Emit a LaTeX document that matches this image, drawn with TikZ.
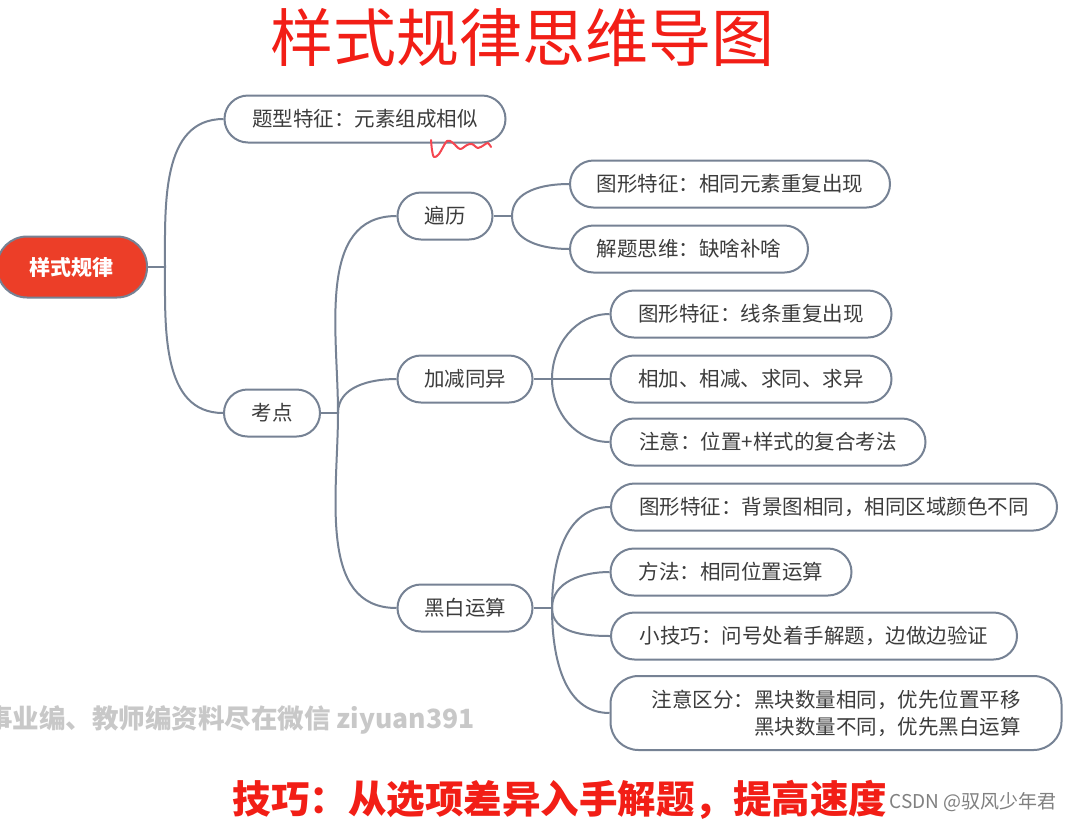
\documentclass[tikz,border=0pt]{standalone}
\usepackage{fontspec}
\setmainfont{Noto Sans CJK SC}
\definecolor{linec}{RGB}{118,130,148}
\definecolor{rootred}{RGB}{236,62,40}
\definecolor{titlered}{RGB}{242,30,22}
\definecolor{txt}{RGB}{60,60,60}
\definecolor{wm}{RGB}{200,200,200}
\definecolor{pen}{RGB}{245,70,80}
\tikzset{
  box/.style={draw=linec, line width=2pt, fill=white, rounded corners=23.5pt,
    minimum height=47pt, inner sep=0pt, text=txt, font=\fontsize{20.5}{27}\selectfont},
  rootbox/.style={draw=linec, line width=2pt, fill=rootred, rounded corners=30pt,
    minimum height=61pt, minimum width=150pt, inner sep=0pt, text=white,
    font=\fontsize{21}{26}\selectfont\bfseries},
  conn/.style={draw=linec, line width=2pt},
  up/.style={out=90,in=180},
  down/.style={out=-90,in=180},
}
\begin{document}
\begin{tikzpicture}[x=1pt,y=1pt]
\useasboundingbox (0,0) rectangle (1072,-823);
\fill[white] (0,0) rectangle (1072,-823);

\node[text=titlered, font=\fontsize{63}{70}\selectfont] (title) at (522,-38) {样式规律思维导图};

\node[rootbox] (root) at (72,-267) {样式规律};
\node[box, minimum width=281pt] (tx) at (365,-119) {题型特征：元素组成相似};
\node[box, minimum width=96pt] (kd) at (272,-413) {考点};
\node[box, minimum width=95pt] (bl) at (445,-216) {遍历};
\node[box, minimum width=135pt] (jj) at (465,-379) {加减同异};
\node[box, minimum width=135pt] (hb) at (465,-608) {黑白运算};

\node[box, minimum width=320pt] (b1) at (730,-184) {图形特征：相同元素重复出现};
\node[box, minimum width=238pt] (b2) at (689,-249) {解题思维：缺啥补啥};

\node[box, minimum width=281pt] (j1) at (751,-314) {图形特征：线条重复出现};
\node[box, minimum width=281pt] (j2) at (751,-379) {相加、相减、求同、求异};
\node[box, minimum width=315pt] (j3) at (768,-442) {注意：位置+样式的复合考法};

\node[box, minimum width=446pt] (h1) at (834,-507) {图形特征：背景图相同，相同区域颜色不同};
\node[box, minimum width=241pt] (h2) at (731,-572) {方法：相同位置运算};
\node[box, minimum width=406pt] (h3) at (814,-636) {小技巧：问号处着手解题，边做边验证};
\node[box, minimum width=451pt, minimum height=74pt, rounded corners=28pt, align=right] (h4) at (836,-713) {注意区分：黑块数量相同，优先位置平移\\黑块数量不同，优先黑白运算};

% connectors
\coordinate (c0) at (165,-267);
\coordinate (c1) at (338,-413);
\coordinate (c2) at (512,-216);
\coordinate (c3) at (552,-379);
\coordinate (c4) at (552,-608);

\draw[conn] (root.east) -- (c0);
\draw[conn] (c0) to[up] (tx.west);
\draw[conn] (c0) to[down] (kd.west);

\draw[conn] (kd.east) -- (c1);
\draw[conn] (c1) to[up] (bl.west);
\draw[conn] (c1) to[up] (jj.west);
\draw[conn] (c1) to[down] (hb.west);

\draw[conn] (bl.east) -- (c2);
\draw[conn] (c2) to[up] (b1.west);
\draw[conn] (c2) to[down] (b2.west);

\draw[conn] (jj.east) -- (c3);
\draw[conn] (c3) to[up] (j1.west);
\draw[conn] (c3) -- (j2.west);
\draw[conn] (c3) to[down] (j3.west);

\draw[conn] (hb.east) -- (c4);
\draw[conn] (c4) to[up] (h1.west);
\draw[conn] (c4) to[up] (h2.west);
\draw[conn] (c4) to[down] (h3.west);
\draw[conn] (c4) to[down] (h4.west);

% red squiggle
\draw[pen, line width=2pt, line cap=round, line join=round]
  plot[smooth, tension=0.55] coordinates {(431,-140) (432,-150) (434,-157) (439,-154) (447,-141) (453,-143) (460,-149) (467,-145) (472,-144) (478,-148) (484,-145) (488,-143) (491,-147)};

% watermark and footer
\node[anchor=east, text=wm, font=\fontsize{26.5}{30}\selectfont\bfseries] (wmk) at (478,-720) {事业编、教师编资料尽在微信 ziyuan391};
\node[text=titlered, font=\fontsize{38.5}{44}\selectfont\bfseries] (tip) at (560,-800) {技巧：从选项差异入手解题，提高速度};
\node[anchor=west, text=gray, font=\fontsize{19}{22}\selectfont] (csdn) at (886,-802) {CSDN @驭风少年君};
\end{tikzpicture}
\end{document}
